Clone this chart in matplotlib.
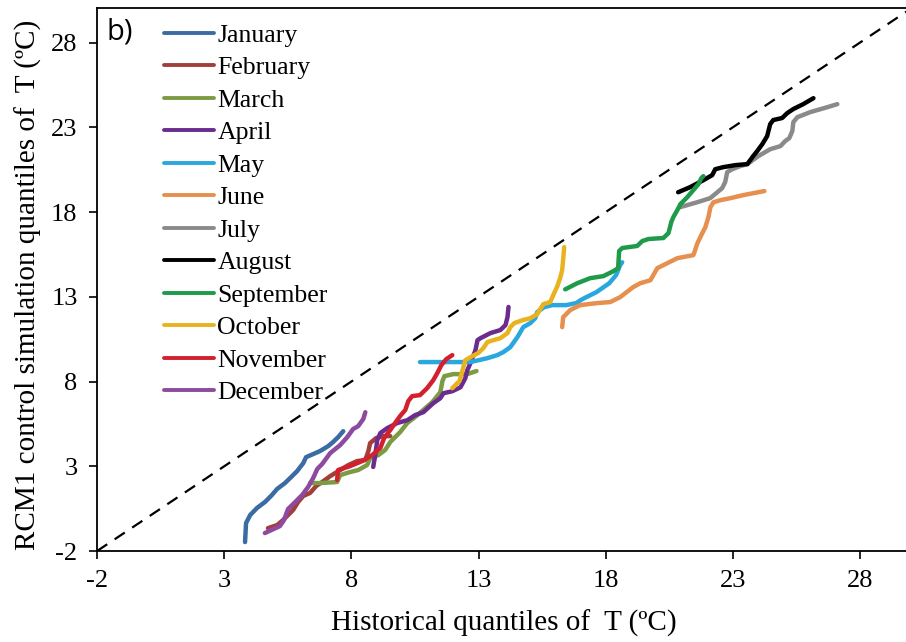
import numpy as np
import matplotlib
matplotlib.use("Agg")
import matplotlib.pyplot as plt

# ---- data (x = historical quantile, y = RCM1 quantile, °C) ----
months = ["January", "February", "March", "April", "May", "June", "July",
          "August", "September", "October", "November", "December"]
colors = ["#3a6ca3", "#a23f3b", "#7b9b44", "#6a2c8f", "#2aa7df", "#e68f4e",
          "#8a8a8a", "#000000", "#1f9a4b", "#e9b31f", "#d3202f", "#8d4a9f"]

jan_x = [3.82, 3.86, 4.02, 4.29, 4.61, 4.88, 5.08, 5.39, 5.67, 5.87, 6.11, 6.22, 6.50, 6.77, 7.09, 7.28, 7.48, 7.68]
jan_y = [-1.47, -0.35, 0.12, 0.54, 0.90, 1.31, 1.66, 2.01, 2.42, 2.72, 3.19, 3.54, 3.72, 3.90, 4.19, 4.43, 4.72, 5.07]

feb_x = [4.72, 5.08, 5.31, 5.51, 5.71, 5.91, 6.11, 6.38, 6.62, 6.85, 7.17, 7.56, 7.88, 8.23, 8.55, 8.67, 8.74, 8.98, 9.26, 9.53]
feb_y = [-0.65, -0.47, -0.18, 0.12, 0.42, 0.90, 1.25, 1.43, 1.84, 2.07, 2.42, 2.78, 3.07, 3.31, 3.37, 3.90, 4.37, 4.67, 4.78, 4.78]

mar_x = [6.38, 6.77, 7.44, 7.56, 7.95, 8.27, 8.62, 8.74, 9.06, 9.33, 9.53, 9.92, 10.20, 10.59, 10.91, 11.18, 11.50, 11.58, 11.66, 12.01, 12.56, 12.92]
mar_y = [2.01, 2.01, 2.07, 2.48, 2.66, 2.78, 3.07, 3.48, 3.66, 3.96, 4.43, 5.02, 5.55, 6.01, 6.43, 6.78, 7.37, 8.02, 8.32, 8.44, 8.44, 8.62]

apr_x = [8.86, 8.94, 9.02, 9.14, 9.41, 9.80, 10.20, 10.51, 10.83, 11.22, 11.50, 11.62, 11.97, 12.29, 12.48, 12.56, 12.68, 12.88, 12.96, 13.08, 13.47, 13.86, 14.06, 14.14, 14.18]
apr_y = [2.96, 3.66, 4.55, 4.96, 5.25, 5.55, 5.72, 6.02, 6.19, 6.72, 7.02, 7.31, 7.43, 7.66, 8.19, 8.67, 9.08, 9.85, 10.44, 10.56, 10.86, 11.04, 11.33, 11.80, 12.40]

may_x = [10.70, 11.69, 12.68, 13.35, 13.74, 13.98, 14.25, 14.53, 14.76, 15.04, 15.23, 15.31, 15.58, 15.90, 16.45, 16.84, 17.08, 17.63, 18.14, 18.41, 18.57, 18.65]
may_y = [9.15, 9.15, 9.15, 9.38, 9.56, 9.74, 10.03, 10.62, 11.21, 11.45, 11.74, 12.10, 12.39, 12.51, 12.51, 12.63, 12.86, 13.27, 13.80, 14.28, 14.87, 15.04]

jun_x = [16.29, 16.33, 16.61, 17.00, 17.67, 18.18, 18.57, 19.08, 19.36, 19.76, 20.03, 20.43, 20.82, 21.45, 21.61, 21.80, 21.92, 22.04, 22.12, 22.24, 22.51, 22.90, 23.41, 24.24]
jun_y = [11.21, 11.80, 12.22, 12.51, 12.63, 12.69, 12.98, 13.57, 13.80, 13.98, 14.69, 14.99, 15.28, 15.46, 16.17, 16.76, 17.11, 17.70, 18.29, 18.58, 18.70, 18.82, 19.00, 19.24]

jul_x = [20.93, 21.60, 22.11, 22.39, 22.58, 22.70, 22.78, 22.98, 23.29, 23.57, 24.00, 24.47, 24.87, 25.06, 25.22, 25.34, 25.38, 25.54, 26.05, 26.72, 27.11]
jul_y = [18.29, 18.58, 18.82, 19.17, 19.41, 19.77, 20.36, 20.53, 20.71, 20.83, 21.30, 21.71, 21.89, 22.19, 22.36, 22.78, 23.31, 23.60, 23.90, 24.19, 24.37]

aug_x = [20.85, 21.32, 21.84, 22.19, 22.31, 22.62, 23.10, 23.57, 23.80, 23.96, 24.16, 24.35, 24.47, 24.59, 24.94, 25.14, 25.38, 25.77, 26.17]
aug_y = [19.17, 19.47, 19.88, 20.18, 20.53, 20.65, 20.77, 20.83, 21.30, 21.60, 22.01, 22.48, 23.19, 23.43, 23.55, 23.84, 24.08, 24.37, 24.72]

sep_x = [16.41, 16.88, 17.39, 17.91, 18.30, 18.49, 18.53, 18.65, 19.24, 19.44, 19.68, 20.27, 20.47, 20.58, 20.66, 20.82, 20.94, 21.21, 21.45, 21.65, 21.76, 21.84]
sep_y = [13.44, 13.80, 14.10, 14.22, 14.51, 14.69, 15.70, 15.88, 16.00, 16.29, 16.41, 16.47, 16.76, 17.41, 17.70, 18.12, 18.47, 18.88, 19.30, 19.65, 20.00, 20.12]

oct_x = [11.97, 12.25, 12.37, 12.48, 12.76, 12.99, 13.19, 13.35, 13.58, 13.86, 14.14, 14.25, 14.41, 14.73, 15.04, 15.31, 15.43, 15.55, 15.82, 15.94, 16.10, 16.21, 16.29, 16.33, 16.37]
oct_y = [7.61, 8.02, 8.67, 9.26, 9.50, 9.68, 9.97, 10.33, 10.44, 10.56, 10.86, 11.21, 11.45, 11.62, 11.74, 11.98, 12.28, 12.57, 12.69, 13.10, 13.63, 14.10, 14.57, 15.22, 15.93]

nov_x = [7.44, 7.48, 7.95, 8.43, 8.82, 9.14, 9.29, 9.53, 9.72, 9.92, 10.12, 10.24, 10.39, 10.70, 10.98, 11.22, 11.38, 11.54, 11.73, 11.97]
nov_y = [2.19, 2.78, 3.01, 3.31, 3.66, 4.08, 4.67, 5.14, 5.55, 5.97, 6.32, 6.85, 7.14, 7.20, 7.61, 8.08, 8.50, 8.97, 9.32, 9.56]

dec_x = [4.60, 5.19, 5.35, 5.51, 5.71, 6.07, 6.30, 6.50, 6.66, 6.85, 7.17, 7.56, 7.84, 8.07, 8.27, 8.47, 8.55]
dec_y = [-0.94, -0.53, -0.18, 0.48, 0.77, 1.31, 1.78, 2.31, 2.84, 3.13, 3.78, 4.25, 4.72, 5.20, 5.37, 5.79, 6.19]

series_x = [jan_x, feb_x, mar_x, apr_x, may_x, jun_x, jul_x, aug_x, sep_x, oct_x, nov_x, dec_x]
series_y = [jan_y, feb_y, mar_y, apr_y, may_y, jun_y, jul_y, aug_y, sep_y, oct_y, nov_y, dec_y]

ticks = [-2, 3, 8, 13, 18, 23, 28]

# ---- figure ----
plt.rcParams['font.family'] = ['Liberation Serif', 'DejaVu Serif']
fig = plt.figure(figsize=(9.06, 6.42), dpi=100)
ax = fig.add_axes([0.1071, 0.1417, 0.8929, 0.8458])

ax.plot([-2, 31], [-2, 31], color='black', lw=1.6, dashes=(5.5, 4.0), zorder=1)

for name, c, xs, ys in zip(months, colors, series_x, series_y):
    ax.plot(xs, ys, color=c, lw=3.2, solid_capstyle='round', solid_joinstyle='round',
            label=name, zorder=2)

ax.set_xlim(-2, 29.81)
ax.set_ylim(-2, 30.04)
ax.set_xticks(ticks)
ax.set_yticks(ticks)
ax.set_xticklabels([str(t) for t in ticks])
ax.set_yticklabels([str(t) for t in ticks])
ax.tick_params(direction='out', length=6, width=1.2, labelsize=19, pad=8)
ax.spines['right'].set_visible(False)
for s in ['left', 'bottom', 'top']:
    ax.spines[s].set_linewidth(1.3)

ax.set_xlabel('Historical quantiles of  T (ºC)', fontsize=21)
ax.set_ylabel('RCM1 control simulation quantiles of  T (ºC)', fontsize=21)
ax.xaxis.set_label_coords(0.503, -0.108)
ax.yaxis.set_label_coords(-0.068, 0.49)

ax.text(0.012, 0.955, 'b)', transform=ax.transAxes, fontsize=21,
        family=['Open Sans', 'DejaVu Sans'], ha='left', va='center')

leg = ax.legend(loc='upper left', bbox_to_anchor=(0.067, 0.9945), frameon=False,
                fontsize=18.5, handlelength=1.95, handletextpad=0.12,
                labelspacing=0.37, borderaxespad=0.3, borderpad=0.2)
for h in leg.get_lines():
    h.set_linewidth(2.8)

fig.savefig('out.png', dpi=100)
